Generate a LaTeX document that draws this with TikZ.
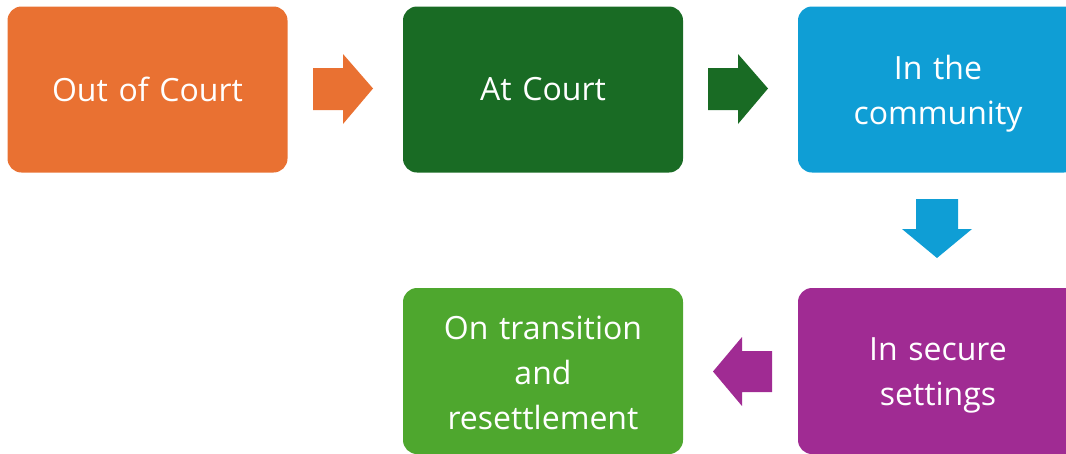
\documentclass[tikz,border=0pt]{standalone}
\usepackage{fontspec}
\setmainfont{Open Sans}
\definecolor{corange}{HTML}{E97132}
\definecolor{cdgreen}{HTML}{196B24}
\definecolor{cblue}{HTML}{0F9ED5}
\definecolor{cpurple}{HTML}{A02B93}
\definecolor{clgreen}{HTML}{4EA72E}
\begin{document}
\begin{tikzpicture}[x=1pt,y=-1pt,
  stagebox/.style={rounded corners=14pt, minimum width=280pt, minimum height=166pt,
    inner sep=0pt},
  stagetext/.style={text width=260pt, align=center, text=white, inner sep=0pt,
    font=\fontsize{32}{45}\selectfont},
]
\useasboundingbox (0,0) rectangle (1066,453);
\clip (0,0) rectangle (1066,453);
\node[stagebox, fill=corange] (out) at (147.5,89.5) {};
\node[stagebox, fill=cdgreen] (court) at (543,89.5) {};
\node[stagebox, fill=cblue] (comm) at (938,89.5) {};
\node[stagebox, fill=cpurple] (secure) at (938,371) {};
\node[stagebox, fill=clgreen] (trans) at (543,371) {};
\node[stagetext, yshift=0.5pt] (outt) at (out.center) {Out of Court};
\node[stagetext, yshift=0.5pt] (courtt) at (court.center) {At Court};
\node[stagetext, yshift=-4.5pt] (commt) at (comm.center) {In the\\community};
\node[stagetext, yshift=-4.5pt] (securet) at (secure.center) {In secure\\settings};
\node[stagetext, yshift=-1.5pt] (transt) at (trans.center) {On transition\\and\\resettlement};
% arrows
\fill[corange] (313,68) -- (343,68) -- (343,54) -- (373,88.5) -- (343,124) -- (343,110) -- (313,110) -- cycle;
\fill[cdgreen] (708,68) -- (738,68) -- (738,54) -- (768,88.5) -- (738,124) -- (738,110) -- (708,110) -- cycle;
\fill[cblue] (916,199) -- (958,199) -- (958,229) -- (972,229) -- (937,258) -- (902,229) -- (916,229) -- cycle;
\fill[cpurple] (772,351) -- (742,351) -- (742,337) -- (713,371.5) -- (742,406) -- (742,392) -- (772,392) -- cycle;
\end{tikzpicture}
\end{document}
